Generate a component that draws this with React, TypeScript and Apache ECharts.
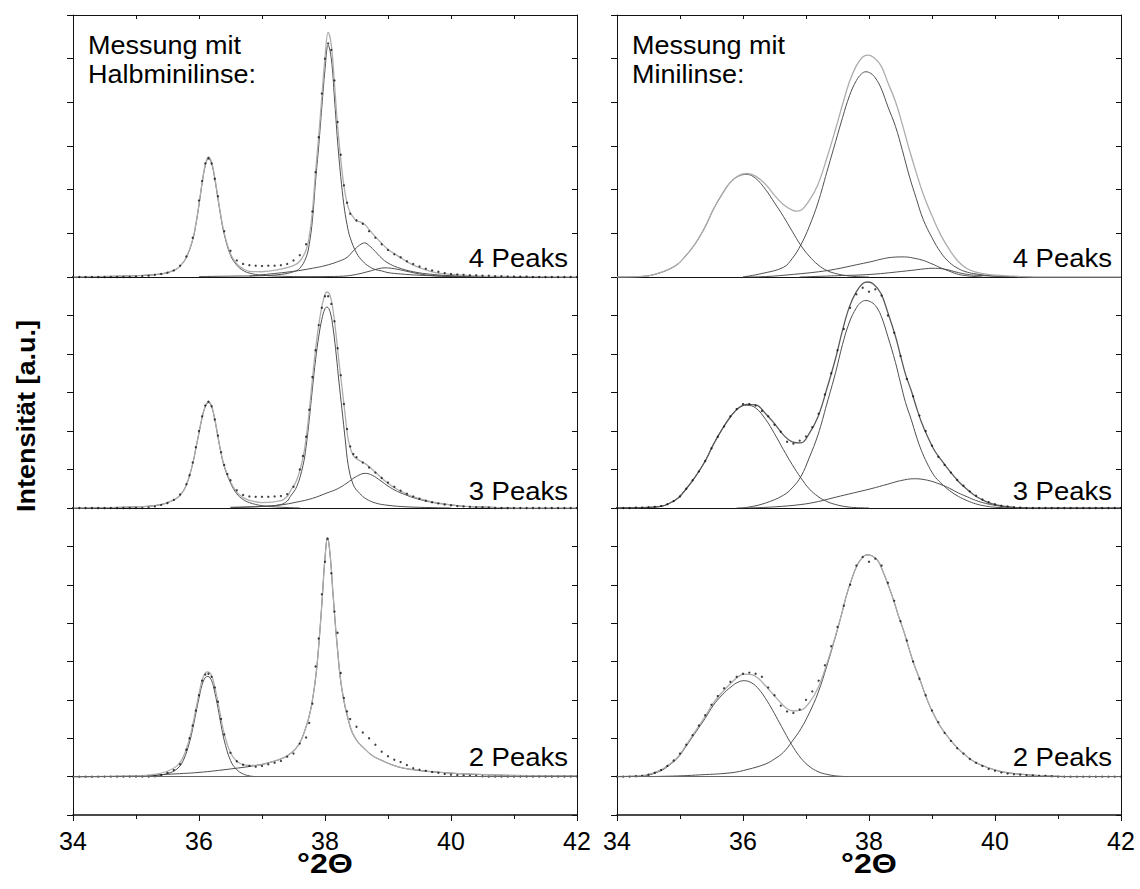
import React, { useEffect, useRef } from 'react';
import * as echarts from 'echarts';

// ---------------- data (x in °2Θ, y in intensity units) ----------------
// LEFT column: "Halbminilinse"
const L4_DATA = [[34.0,0],[34.1,0],[34.2,0],[34.3,0],[34.4,0],[34.5,0],[34.6,0],[34.7,0],[34.8,0],[34.9,0],[35.0,0.01],[35.1,0.02],[35.2,0.03],[35.3,0.05],[35.4,0.07],[35.5,0.1],[35.6,0.15],[35.7,0.26],[35.8,0.47],[35.9,0.9],[36.0,1.75],[36.05,2.2],[36.1,2.6],[36.15,2.72],[36.2,2.6],[36.25,2.25],[36.3,1.85],[36.4,1.05],[36.5,0.6],[36.6,0.38],[36.7,0.3],[36.8,0.27],[36.9,0.26],[37.0,0.25],[37.1,0.26],[37.2,0.26],[37.3,0.27],[37.4,0.3],[37.5,0.38],[37.6,0.5],[37.7,0.75],[37.8,1.5],[37.85,2.4],[37.9,3.2],[37.95,4.2],[38.0,5.0],[38.05,5.35],[38.1,5.2],[38.15,4.5],[38.2,3.55],[38.25,2.8],[38.3,2.1],[38.35,1.7],[38.4,1.45],[38.5,1.3],[38.6,1.22],[38.7,1.05],[38.8,0.9],[38.9,0.75],[39.0,0.62],[39.1,0.52],[39.2,0.45],[39.3,0.36],[39.4,0.3],[39.5,0.24],[39.6,0.19],[39.7,0.15],[39.8,0.12],[39.9,0.09],[40.0,0.07],[40.1,0.06],[40.2,0.05],[40.3,0.04],[40.4,0.04],[40.5,0.03],[40.6,0.03],[40.7,0.02],[40.8,0.02],[40.9,0.01],[41.0,0.01],[41.1,0.01],[41.2,0.01],[41.3,0],[41.4,0],[41.5,0],[41.6,0],[41.7,0],[41.8,0],[41.9,0],[42.0,0]];
const L4_TOTAL = [[34.0,0],[35.0,0.03],[35.4,0.07],[35.6,0.15],[35.7,0.25],[35.8,0.45],[35.9,0.86],[35.95,1.21],[36.0,1.67],[36.05,2.17],[36.1,2.57],[36.15,2.75],[36.2,2.63],[36.25,2.28],[36.3,1.83],[36.35,1.38],[36.4,1.01],[36.5,0.53],[36.6,0.3],[36.7,0.19],[36.8,0.13],[37.0,0.12],[37.3,0.18],[37.5,0.26],[37.6,0.36],[37.7,0.62],[37.75,0.93],[37.8,1.5],[37.85,2.41],[37.9,3.22],[37.95,4.13],[38.0,5.02],[38.05,5.6],[38.1,5.31],[38.15,4.43],[38.2,3.46],[38.25,2.7],[38.3,2.09],[38.35,1.69],[38.4,1.47],[38.45,1.37],[38.5,1.28],[38.55,1.27],[38.63,1.2],[38.7,1.09],[38.8,0.92],[38.9,0.77],[39.0,0.63],[39.15,0.49],[39.4,0.27],[39.7,0.12],[40.0,0.06],[40.5,0.02],[41.0,0.01],[42.0,0]];
const L4_C1 = [[34.0,0],[35.0,0.03],[35.4,0.07],[35.6,0.15],[35.7,0.25],[35.8,0.45],[35.9,0.85],[35.95,1.2],[36.0,1.65],[36.05,2.15],[36.1,2.55],[36.15,2.71],[36.2,2.6],[36.25,2.25],[36.3,1.8],[36.35,1.35],[36.4,0.98],[36.5,0.5],[36.6,0.27],[36.7,0.15],[36.8,0.09],[37.0,0.04],[37.5,0.01],[38.0,0]];
const L4_C2 = [[36.0,0.01],[36.5,0.02],[37.0,0.03],[37.3,0.06],[37.5,0.12],[37.6,0.2],[37.7,0.45],[37.75,0.75],[37.8,1.3],[37.85,2.2],[37.9,3.0],[37.95,3.9],[38.0,4.75],[38.05,5.31],[38.1,5.0],[38.15,4.1],[38.2,3.1],[38.25,2.3],[38.3,1.65],[38.35,1.2],[38.4,0.9],[38.5,0.55],[38.6,0.36],[38.7,0.24],[38.8,0.17],[38.9,0.14],[39.0,0.1],[39.2,0.07],[39.5,0.04],[40.0,0.02],[40.5,0.01],[41.0,0]];
const L4_C3 = [[36.8,0.02],[37.0,0.05],[37.5,0.13],[37.8,0.2],[38.0,0.26],[38.2,0.35],[38.35,0.45],[38.45,0.6],[38.55,0.73],[38.63,0.78],[38.7,0.72],[38.8,0.58],[38.9,0.43],[39.0,0.32],[39.15,0.22],[39.4,0.12],[39.7,0.06],[40.0,0.03],[40.5,0.01],[41.0,0]];
const L4_C4 = [[37.5,0],[38.0,0.01],[38.3,0.02],[38.5,0.06],[38.7,0.13],[38.85,0.19],[38.95,0.21],[39.1,0.19],[39.3,0.13],[39.5,0.07],[39.7,0.03],[40.0,0.01],[40.5,0]];

const L3_DATA = [[34.0,0],[34.1,0],[34.2,0],[34.3,0],[34.4,0],[34.5,0],[34.6,0],[34.7,0],[34.8,0],[34.9,0],[35.0,0],[35.1,0],[35.2,0.01],[35.3,0.04],[35.4,0.08],[35.5,0.13],[35.6,0.21],[35.7,0.35],[35.8,0.62],[35.85,0.85],[35.9,1.18],[35.95,1.58],[36.0,2.0],[36.05,2.38],[36.1,2.66],[36.15,2.76],[36.2,2.64],[36.25,2.3],[36.3,1.88],[36.35,1.45],[36.4,1.12],[36.45,0.88],[36.5,0.72],[36.6,0.46],[36.7,0.34],[36.8,0.3],[36.9,0.29],[37.0,0.29],[37.1,0.29],[37.2,0.3],[37.3,0.31],[37.4,0.36],[37.5,0.55],[37.6,1.0],[37.65,1.35],[37.7,1.85],[37.75,2.55],[37.8,3.4],[37.85,4.1],[37.9,4.75],[37.95,5.2],[38.0,5.5],[38.05,5.5],[38.1,5.3],[38.15,4.85],[38.2,4.15],[38.25,3.45],[38.3,2.7],[38.35,2.05],[38.4,1.6],[38.45,1.4],[38.5,1.32],[38.6,1.18],[38.7,1.05],[38.8,0.92],[38.9,0.78],[39.0,0.66],[39.1,0.55],[39.2,0.45],[39.3,0.37],[39.4,0.3],[39.5,0.24],[39.6,0.19],[39.7,0.15],[39.8,0.12],[39.9,0.09],[40.0,0.07],[40.1,0.05],[40.2,0.04],[40.3,0.03],[40.4,0.02],[40.5,0.02],[40.6,0.01],[40.7,0],[40.8,0],[40.9,0],[41.0,0],[41.1,0],[41.2,0],[41.3,0],[41.4,0],[41.5,0],[41.6,0],[41.7,0],[41.8,0],[41.9,0],[42.0,0]];
const L3_TOTAL = [[34.0,0],[35.0,0.03],[35.4,0.09],[35.6,0.21],[35.7,0.33],[35.8,0.6],[35.9,1.15],[35.95,1.55],[36.0,1.96],[36.05,2.36],[36.1,2.64],[36.15,2.76],[36.2,2.65],[36.25,2.32],[36.3,1.87],[36.35,1.44],[36.4,1.1],[36.5,0.68],[36.6,0.41],[36.7,0.27],[36.8,0.2],[37.0,0.14],[37.3,0.19],[37.4,0.3],[37.45,0.44],[37.55,0.72],[37.65,1.3],[37.7,1.81],[37.75,2.52],[37.8,3.35],[37.85,4.12],[37.9,4.75],[37.95,5.23],[38.0,5.55],[38.03,5.61],[38.08,5.52],[38.13,5.11],[38.18,4.44],[38.22,3.82],[38.27,3.13],[38.32,2.42],[38.37,1.77],[38.45,1.36],[38.55,1.23],[38.65,1.14],[38.8,0.93],[39.0,0.64],[39.15,0.48],[39.3,0.36],[39.42,0.28],[39.69,0.16],[40.0,0.08],[40.23,0.04],[40.6,0.02],[41.0,0],[42.0,0]];
const L3_C1 = [[34.0,0],[35.0,0.03],[35.4,0.09],[35.6,0.21],[35.7,0.33],[35.8,0.6],[35.9,1.15],[35.95,1.55],[36.0,1.95],[36.05,2.35],[36.1,2.63],[36.15,2.74],[36.2,2.63],[36.25,2.3],[36.3,1.85],[36.35,1.42],[36.4,1.08],[36.5,0.65],[36.6,0.37],[36.7,0.22],[36.8,0.14],[37.0,0.06],[37.3,0.02],[37.6,0]];
const L3_C2 = [[36.5,0.02],[37.0,0.04],[37.3,0.09],[37.4,0.18],[37.45,0.3],[37.55,0.55],[37.65,1.1],[37.7,1.6],[37.75,2.3],[37.8,3.1],[37.85,3.85],[37.9,4.45],[37.95,4.9],[38.0,5.18],[38.03,5.22],[38.08,5.1],[38.13,4.65],[38.18,3.95],[38.22,3.3],[38.27,2.55],[38.32,1.8],[38.37,1.1],[38.45,0.6],[38.55,0.38],[38.65,0.24],[38.8,0.13],[39.0,0.07],[39.3,0.03],[39.7,0.01],[40.0,0]];
const L3_C3 = [[36.5,0.01],[37.0,0.04],[37.3,0.08],[37.54,0.15],[37.8,0.25],[38.03,0.39],[38.2,0.5],[38.35,0.65],[38.5,0.82],[38.64,0.9],[38.75,0.85],[38.89,0.7],[39.0,0.57],[39.15,0.43],[39.3,0.33],[39.42,0.26],[39.69,0.15],[40.0,0.08],[40.23,0.04],[40.6,0.02],[41.0,0]];

const L2_DATA = [[34.0,0],[34.1,0],[34.2,0],[34.3,0],[34.4,0],[34.5,0],[34.6,0],[34.7,0],[34.8,0],[34.9,0],[35.0,0],[35.1,0],[35.2,0],[35.3,0.01],[35.4,0.04],[35.5,0.1],[35.6,0.17],[35.7,0.32],[35.8,0.7],[35.85,1.0],[35.9,1.33],[35.95,1.72],[36.0,2.12],[36.05,2.5],[36.1,2.66],[36.15,2.68],[36.2,2.6],[36.25,2.32],[36.3,1.95],[36.35,1.5],[36.4,1.1],[36.5,0.62],[36.6,0.4],[36.7,0.31],[36.8,0.28],[36.9,0.26],[37.0,0.28],[37.1,0.32],[37.2,0.36],[37.3,0.41],[37.4,0.52],[37.5,0.6],[37.6,0.86],[37.7,1.02],[37.75,1.4],[37.8,1.9],[37.85,2.87],[37.9,3.6],[37.95,4.75],[38.0,5.6],[38.04,6.2],[38.1,5.3],[38.15,4.3],[38.2,3.75],[38.25,2.7],[38.3,2.05],[38.35,1.7],[38.4,1.5],[38.5,1.3],[38.6,1.15],[38.7,1.0],[38.8,0.83],[38.9,0.65],[39.0,0.53],[39.1,0.44],[39.2,0.38],[39.3,0.3],[39.4,0.22],[39.5,0.18],[39.6,0.15],[39.7,0.12],[39.8,0.1],[39.9,0.07],[40.0,0.05],[40.1,0.04],[40.2,0.03],[40.3,0.02],[40.4,0.02],[40.5,0.01],[40.6,0],[40.7,0],[40.8,0],[40.9,0],[41.0,0],[41.1,0],[41.2,0],[41.3,0],[41.4,0],[41.5,0],[41.6,0],[41.7,0],[41.8,0],[41.9,0],[42.0,0]];
const L2_TOTAL = [[34.0,0],[35.0,0.02],[35.3,0.06],[35.5,0.14],[35.65,0.28],[35.75,0.51],[35.85,1.0],[35.9,1.35],[35.95,1.76],[36.0,2.16],[36.05,2.52],[36.1,2.7],[36.14,2.73],[36.2,2.63],[36.25,2.34],[36.3,1.95],[36.35,1.51],[36.4,1.12],[36.5,0.62],[36.6,0.4],[36.7,0.31],[36.8,0.29],[36.9,0.29],[37.1,0.36],[37.33,0.48],[37.45,0.6],[37.54,0.74],[37.62,0.95],[37.7,1.3],[37.76,1.65],[37.81,2.09],[37.86,2.7],[37.9,3.4],[37.95,4.5],[38.0,5.7],[38.04,6.22],[38.08,5.8],[38.13,4.7],[38.19,3.48],[38.27,2.26],[38.4,1.3],[38.5,0.95],[38.62,0.74],[38.75,0.55],[38.89,0.43],[39.15,0.26],[39.4,0.18],[39.69,0.13],[40.23,0.07],[41.03,0.03],[42.0,0.02]];
const L2_C1 = [[34.0,0],[35.0,0.01],[35.3,0.03],[35.5,0.08],[35.65,0.2],[35.75,0.42],[35.85,0.9],[35.9,1.25],[35.95,1.65],[36.0,2.05],[36.05,2.4],[36.1,2.58],[36.14,2.61],[36.2,2.5],[36.25,2.2],[36.3,1.8],[36.35,1.35],[36.4,0.95],[36.5,0.42],[36.6,0.18],[36.7,0.07],[36.8,0.02],[36.9,0]];
const L2_C2 = [[34.0,0],[35.0,0.01],[35.5,0.06],[36.0,0.11],[36.5,0.2],[36.9,0.29],[37.1,0.36],[37.33,0.48],[37.45,0.6],[37.54,0.74],[37.62,0.95],[37.7,1.3],[37.76,1.65],[37.81,2.09],[37.86,2.7],[37.9,3.4],[37.95,4.5],[38.0,5.7],[38.04,6.22],[38.08,5.8],[38.13,4.7],[38.19,3.48],[38.27,2.26],[38.4,1.3],[38.5,0.95],[38.62,0.74],[38.75,0.55],[38.89,0.43],[39.15,0.26],[39.4,0.18],[39.69,0.13],[40.23,0.07],[41.03,0.03],[42.0,0.02]];

// RIGHT column: "Minilinse"
const R4_TOTAL = [[34.0,0],[34.36,0.01],[34.6,0.06],[34.92,0.25],[35.1,0.5],[35.25,0.78],[35.4,1.15],[35.53,1.55],[35.67,1.9],[35.8,2.17],[35.93,2.32],[36.06,2.37],[36.2,2.31],[36.36,2.12],[36.5,1.87],[36.64,1.66],[36.78,1.53],[36.85,1.51],[36.92,1.53],[37.05,1.75],[37.19,2.12],[37.33,2.72],[37.47,3.39],[37.58,3.95],[37.69,4.47],[37.8,4.84],[37.9,5.04],[37.98,5.08],[38.07,5.03],[38.19,4.84],[38.3,4.45],[38.42,4.02],[38.53,3.49],[38.64,2.92],[38.75,2.39],[38.86,1.9],[39.0,1.4],[39.14,0.96],[39.28,0.62],[39.42,0.35],[39.56,0.19],[39.7,0.11],[39.85,0.07],[40.0,0.04],[40.3,0.02],[40.6,0],[42.0,0]];
const R4_C1 = [[34.0,0],[34.36,0.01],[34.6,0.06],[34.92,0.25],[35.1,0.5],[35.25,0.78],[35.4,1.15],[35.53,1.55],[35.67,1.9],[35.8,2.17],[35.93,2.31],[36.06,2.35],[36.2,2.26],[36.36,2.0],[36.5,1.7],[36.64,1.39],[36.78,1.05],[36.92,0.72],[37.05,0.48],[37.19,0.28],[37.33,0.15],[37.47,0.08],[37.65,0.03],[37.8,0.01],[38.0,0]];
const R4_C2 = [[36.0,0],[36.3,0.08],[36.64,0.22],[36.78,0.42],[36.92,0.74],[37.05,1.15],[37.19,1.7],[37.33,2.4],[37.47,3.1],[37.58,3.65],[37.69,4.15],[37.8,4.5],[37.88,4.65],[37.95,4.7],[38.03,4.66],[38.1,4.56],[38.19,4.33],[38.3,3.9],[38.42,3.45],[38.53,2.9],[38.64,2.31],[38.75,1.8],[38.86,1.32],[39.0,0.9],[39.14,0.56],[39.28,0.33],[39.42,0.19],[39.56,0.11],[39.7,0.07],[39.85,0.04],[40.0,0.02],[40.3,0.01],[40.6,0]];
const R4_C3 = [[36.0,0],[36.36,0.01],[36.8,0.06],[37.2,0.12],[37.47,0.18],[37.8,0.28],[38.03,0.35],[38.2,0.41],[38.36,0.45],[38.56,0.46],[38.75,0.42],[38.86,0.38],[39.0,0.3],[39.14,0.21],[39.3,0.12],[39.42,0.06],[39.6,0.02],[39.8,0]];
const R4_C4 = [[36.9,0],[37.5,0.03],[38.03,0.06],[38.6,0.14],[38.9,0.19],[39.0,0.2],[39.2,0.18],[39.42,0.1],[39.56,0.06],[39.7,0.04],[40.0,0.02],[40.4,0]];

const R3_DATA = [[34.0,0],[34.1,0],[34.2,0],[34.3,0.01],[34.4,0.01],[34.5,0.02],[34.6,0.03],[34.7,0.05],[34.8,0.1],[34.9,0.18],[35.0,0.3],[35.1,0.5],[35.2,0.72],[35.3,0.95],[35.4,1.22],[35.5,1.55],[35.6,1.85],[35.7,2.12],[35.8,2.38],[35.9,2.57],[36.0,2.7],[36.1,2.7],[36.2,2.66],[36.3,2.52],[36.4,2.38],[36.5,2.16],[36.6,1.98],[36.7,1.72],[36.8,1.67],[36.9,1.75],[37.0,1.86],[37.1,2.1],[37.2,2.45],[37.3,2.95],[37.4,3.5],[37.5,4.1],[37.6,4.65],[37.7,5.2],[37.8,5.55],[37.9,5.72],[38.0,5.62],[38.1,5.68],[38.2,5.52],[38.3,5.0],[38.4,4.55],[38.5,3.95],[38.6,3.35],[38.7,2.9],[38.8,2.4],[38.9,2.0],[39.0,1.62],[39.1,1.33],[39.2,1.12],[39.3,0.92],[39.4,0.73],[39.5,0.58],[39.6,0.43],[39.7,0.32],[39.8,0.22],[39.9,0.15],[40.0,0.1],[40.1,0.06],[40.2,0.04],[40.3,0.02],[40.4,0.01],[40.5,0],[40.6,0],[40.7,0],[40.8,0],[40.9,0],[41.0,0],[41.1,0],[41.2,0],[41.3,0],[41.4,0],[41.5,0],[41.6,0],[41.7,0],[41.8,0],[41.9,0],[42.0,0]];
const R3_TOTAL = [[34.0,0],[34.4,0.01],[34.69,0.04],[34.83,0.12],[34.97,0.26],[35.1,0.5],[35.25,0.83],[35.4,1.22],[35.53,1.65],[35.67,2.05],[35.81,2.39],[35.93,2.6],[36.06,2.69],[36.2,2.68],[36.36,2.45],[36.5,2.19],[36.64,1.9],[36.78,1.72],[36.92,1.69],[37.05,1.93],[37.19,2.37],[37.33,3.09],[37.47,3.89],[37.58,4.62],[37.69,5.23],[37.8,5.62],[37.9,5.83],[37.98,5.87],[38.07,5.82],[38.19,5.57],[38.3,5.07],[38.42,4.46],[38.5,3.96],[38.58,3.47],[38.67,3.05],[38.75,2.63],[38.83,2.24],[38.92,1.89],[39.03,1.52],[39.14,1.26],[39.28,0.96],[39.42,0.69],[39.56,0.48],[39.69,0.31],[39.85,0.17],[40.0,0.09],[40.25,0.02],[40.5,0],[42.0,0]];
const R3_C1 = [[34.0,0],[34.4,0.01],[34.69,0.04],[34.83,0.12],[34.97,0.26],[35.1,0.5],[35.25,0.83],[35.4,1.22],[35.53,1.65],[35.67,2.05],[35.81,2.39],[35.93,2.6],[36.06,2.67],[36.2,2.6],[36.36,2.3],[36.5,1.93],[36.64,1.52],[36.78,1.13],[36.92,0.78],[37.05,0.5],[37.19,0.3],[37.33,0.17],[37.47,0.09],[37.65,0.03],[37.8,0.01],[38.0,0]];
const R3_C2 = [[35.9,0],[36.08,0.02],[36.36,0.13],[36.64,0.33],[36.78,0.52],[36.92,0.82],[37.05,1.3],[37.19,1.9],[37.33,2.7],[37.47,3.52],[37.58,4.25],[37.69,4.83],[37.8,5.2],[37.88,5.35],[37.95,5.39],[38.02,5.36],[38.1,5.26],[38.19,5.0],[38.3,4.45],[38.42,3.78],[38.5,3.25],[38.58,2.74],[38.67,2.3],[38.75,1.87],[38.83,1.5],[38.92,1.17],[39.03,0.85],[39.14,0.65],[39.28,0.45],[39.42,0.3],[39.56,0.19],[39.69,0.11],[39.85,0.05],[40.0,0.02],[40.3,0]];
const R3_C3 = [[36.08,0],[36.5,0.03],[36.92,0.09],[37.2,0.17],[37.47,0.28],[37.75,0.39],[38.03,0.5],[38.3,0.62],[38.5,0.71],[38.72,0.76],[38.93,0.72],[39.14,0.61],[39.28,0.51],[39.42,0.39],[39.56,0.29],[39.69,0.2],[39.85,0.12],[40.0,0.07],[40.25,0.02],[40.5,0]];

const R2_DATA = [[34.0,0],[34.1,0],[34.2,0],[34.3,0.01],[34.4,0.02],[34.5,0.05],[34.6,0.1],[34.7,0.17],[34.8,0.28],[34.9,0.42],[35.0,0.6],[35.1,0.83],[35.2,1.08],[35.3,1.33],[35.4,1.6],[35.5,1.87],[35.6,2.1],[35.7,2.3],[35.8,2.47],[35.9,2.6],[36.0,2.68],[36.1,2.71],[36.2,2.68],[36.3,2.6],[36.4,2.32],[36.5,2.12],[36.6,1.85],[36.7,1.7],[36.8,1.66],[36.9,1.75],[37.0,2.0],[37.1,2.22],[37.2,2.5],[37.3,2.9],[37.4,3.4],[37.5,3.9],[37.6,4.45],[37.7,5.0],[37.8,5.5],[37.9,5.72],[38.0,5.6],[38.1,5.68],[38.2,5.5],[38.3,5.05],[38.4,4.58],[38.5,4.05],[38.6,3.55],[38.7,3.0],[38.8,2.55],[38.9,2.12],[39.0,1.72],[39.1,1.42],[39.2,1.14],[39.3,0.93],[39.4,0.74],[39.5,0.6],[39.6,0.46],[39.7,0.36],[39.8,0.28],[39.9,0.2],[40.0,0.15],[40.1,0.11],[40.2,0.08],[40.3,0.06],[40.4,0.05],[40.5,0.04],[40.6,0.03],[40.7,0.02],[40.8,0.02],[40.9,0.01],[41.0,0],[41.1,0],[41.2,0],[41.3,0],[41.4,0],[41.5,0],[41.6,0],[41.7,0],[41.8,0],[41.9,0],[42.0,0]];
const R2_TOTAL = [[34.0,0],[34.42,0.03],[34.69,0.17],[34.83,0.32],[34.97,0.52],[35.1,0.83],[35.25,1.2],[35.4,1.57],[35.53,1.92],[35.67,2.2],[35.81,2.44],[35.92,2.6],[36.02,2.67],[36.14,2.66],[36.25,2.55],[36.36,2.36],[36.47,2.16],[36.58,1.96],[36.69,1.78],[36.8,1.71],[36.92,1.73],[37.05,1.92],[37.19,2.31],[37.33,2.94],[37.47,3.68],[37.56,4.2],[37.64,4.71],[37.72,5.12],[37.81,5.5],[37.9,5.72],[37.97,5.78],[38.05,5.75],[38.14,5.63],[38.22,5.35],[38.31,4.97],[38.39,4.6],[38.47,4.18],[38.56,3.75],[38.64,3.31],[38.72,2.9],[38.81,2.52],[38.89,2.15],[38.97,1.82],[39.05,1.55],[39.14,1.29],[39.28,0.98],[39.42,0.72],[39.56,0.52],[39.69,0.37],[39.83,0.27],[39.97,0.19],[40.1,0.13],[40.25,0.09],[40.5,0.05],[40.81,0.02],[41.2,0],[42.0,0]];
const R2_C1 = [[34.0,0],[34.42,0.02],[34.69,0.15],[34.83,0.3],[34.97,0.5],[35.1,0.8],[35.25,1.16],[35.4,1.52],[35.53,1.86],[35.67,2.13],[35.81,2.34],[35.92,2.46],[36.02,2.5],[36.14,2.44],[36.25,2.28],[36.36,2.03],[36.47,1.73],[36.58,1.4],[36.69,1.07],[36.8,0.76],[36.92,0.48],[37.05,0.27],[37.19,0.13],[37.33,0.06],[37.47,0.02],[37.65,0]];
const R2_C2 = [[34.5,0],[35.0,0.02],[35.25,0.04],[35.81,0.1],[36.08,0.19],[36.36,0.33],[36.5,0.46],[36.64,0.63],[36.78,0.92],[36.92,1.25],[37.05,1.65],[37.19,2.18],[37.33,2.88],[37.47,3.66],[37.56,4.2],[37.64,4.71],[37.72,5.12],[37.81,5.5],[37.9,5.72],[37.97,5.78],[38.05,5.75],[38.14,5.63],[38.22,5.35],[38.31,4.97],[38.39,4.6],[38.47,4.18],[38.56,3.75],[38.64,3.31],[38.72,2.9],[38.81,2.52],[38.89,2.15],[38.97,1.82],[39.05,1.55],[39.14,1.29],[39.28,0.98],[39.42,0.72],[39.56,0.52],[39.69,0.37],[39.83,0.27],[39.97,0.19],[40.1,0.13],[40.25,0.09],[40.5,0.05],[40.81,0.02],[41.2,0]];

const X_MIN = 34;
const X_MAX = 42;
const PEAK_LABELS = ['4 Peaks', '3 Peaks', '2 Peaks'];
const TITLE_LEFT = ['Messung mit', 'Halbminilinse:'];
const TITLE_RIGHT = ['Messung mit', 'Minilinse:'];
const X_NAME = '°2Θ';
const Y_NAME = 'Intensität [a.u.]';

// ---------------- layout / style ----------------
const FONT = "'Liberation Sans', Arial, Helvetica, sans-serif";
const FRAME = '#111';
const COMP = '#4f4f4f';
const LIGHT = '#adadad';
const PANEL_W = 504;
const COL_LEFT = [73, 617];
const SMOOTH = 0.4;
const ROWS = [
  { top: 15, height: 262, min: 0, max: 6, pos: 'top', labelY: 258 },
  { top: 277, height: 231, min: 0, max: 6, pos: 'mid', labelY: 491.5 },
  { top: 508, height: 307, min: -1, max: 7, pos: 'bottom', labelY: 757.5 },
];

const PANELS = [
  { col: 0, row: 0, comps: [L4_C1, L4_C2, L4_C3, L4_C4], total: L4_TOTAL, data: L4_DATA, totalColor: LIGHT },
  { col: 0, row: 1, comps: [L3_C1, L3_C2, L3_C3], total: L3_TOTAL, data: L3_DATA, totalColor: LIGHT },
  { col: 0, row: 2, comps: [L2_C1, L2_C2], total: L2_TOTAL, data: L2_DATA, totalColor: LIGHT },
  { col: 1, row: 0, comps: [R4_C1, R4_C2, R4_C3, R4_C4], total: R4_TOTAL, data: null, totalColor: LIGHT },
  { col: 1, row: 1, comps: [R3_C1, R3_C2, R3_C3], total: R3_TOTAL, data: R3_DATA, totalColor: '#5a5a5a' },
  { col: 1, row: 2, comps: [R2_C1, R2_C2], total: R2_TOTAL, data: R2_DATA, totalColor: LIGHT },
];

function txt(x: number, y: number, text: string, opts: any = {}) {
  const align = opts.align || 'left';
  return {
    type: 'text', x, y, scaleX: opts.scaleX ?? 1, rotation: opts.rotation ?? 0,
    style: {
      text, fontSize: opts.fontSize ?? 24, fontWeight: opts.bold ? 'bold' : 'normal',
      fontFamily: FONT, fill: '#000',
      align, textAlign: align, verticalAlign: 'middle', textVerticalAlign: 'middle',
    },
  };
}

function buildOption() {
  const grid: any[] = [];
  const xAxis: any[] = [];
  const yAxis: any[] = [];
  const series: any[] = [];
  const graphic: any[] = [];

  PANELS.forEach((p, gi) => {
    const r = ROWS[p.row];
    const left = COL_LEFT[p.col];
    grid.push({ left, top: r.top, width: PANEL_W, height: r.height });
    const isBottom = r.pos === 'bottom';
    const xb = xAxis.length;
    xAxis.push({
      gridIndex: gi, type: 'value', min: X_MIN, max: X_MAX, interval: isBottom ? 2 : 1,
      position: 'bottom',
      axisLine: { show: true, onZero: false, lineStyle: { color: FRAME, width: isBottom ? 1.5 : 1 } },
      axisTick: { show: isBottom, inside: false, length: 6, lineStyle: { color: FRAME, width: 1 } },
      minorTick: { show: isBottom, splitNumber: 2, length: 4, lineStyle: { color: FRAME, width: 1 } },
      axisLabel: { show: isBottom, fontSize: 25, color: '#000', margin: 13, fontFamily: FONT },
      splitLine: { show: false }, minorSplitLine: { show: false },
    });
    if (r.pos === 'top') {
      xAxis.push({
        gridIndex: gi, type: 'value', min: X_MIN, max: X_MAX, interval: 1, position: 'top',
        axisLine: { show: true, onZero: false, lineStyle: { color: FRAME, width: 1 } },
        axisTick: { show: true, inside: true, length: 4, lineStyle: { color: FRAME, width: 1 } },
        axisLabel: { show: false }, splitLine: { show: false },
      });
    }
    const yl = yAxis.length;
    yAxis.push({
      gridIndex: gi, type: 'value', min: r.min, max: r.max, interval: 1, position: 'left',
      axisLine: { show: true, onZero: false, lineStyle: { color: FRAME, width: 1 } },
      axisTick: { show: true, inside: false, length: 6, lineStyle: { color: FRAME, width: 1 } },
      axisLabel: { show: false }, splitLine: { show: false },
    });
    yAxis.push({
      gridIndex: gi, type: 'value', min: r.min, max: r.max, interval: 1, position: 'right',
      axisLine: { show: true, onZero: false, lineStyle: { color: FRAME, width: 1 } },
      axisTick: { show: true, inside: true, length: 5, lineStyle: { color: FRAME, width: 1 } },
      axisLabel: { show: false }, splitLine: { show: false },
    });

    p.comps.forEach((c, ci) => {
      series.push({
        type: 'line', xAxisIndex: xb, yAxisIndex: yl, data: c, showSymbol: false,
        smooth: SMOOTH, silent: true, z: 2,
        lineStyle: { color: COMP, width: 1 },
        markLine: isBottom && ci === 0 ? {
          silent: true, symbol: ['none', 'none'], label: { show: false },
          lineStyle: { color: '#666', width: 1, type: 'solid' }, data: [{ yAxis: 0 }],
        } : undefined,
      });
    });
    series.push({
      type: 'line', xAxisIndex: xb, yAxisIndex: yl, data: p.total, showSymbol: false,
      smooth: SMOOTH, silent: true, z: 3,
      lineStyle: { color: p.totalColor, width: 1.3 },
    });
    if (p.data) {
      series.push({
        type: 'scatter', xAxisIndex: xb, yAxisIndex: yl, data: p.data, symbol: 'circle',
        symbolSize: 2.3, silent: true, z: 4, itemStyle: { color: '#111' },
      });
    }

    graphic.push(txt(left + PANEL_W - 9, r.labelY, PEAK_LABELS[p.row], { align: 'right', fontSize: 25, scaleX: 1.1 }));
  });

  [TITLE_LEFT, TITLE_RIGHT].forEach((lines, col) => {
    lines.forEach((t, li) => {
      graphic.push(txt(COL_LEFT[col] + 15, 45.5 + li * 29, t, { fontSize: 25, scaleX: 1.08 }));
    });
    graphic.push(txt(COL_LEFT[col] + PANEL_W / 2, 863, X_NAME, { align: 'center', fontSize: 28, bold: true, scaleX: 1.15 }));
  });

  graphic.push(txt(26, 416, Y_NAME, { align: 'center', fontSize: 25, bold: true, scaleX: 1.08, rotation: Math.PI / 2 }));

  return { animation: false, backgroundColor: '#fff', grid, xAxis, yAxis, series, graphic };
}

export default function App() {
  const ref = useRef<HTMLDivElement>(null);
  useEffect(() => {
    if (!ref.current) return;
    const chart = echarts.init(ref.current, null, { renderer: 'svg' });
    chart.setOption(buildOption() as any);
    return () => chart.dispose();
  }, []);
  return (
    <div
      ref={ref}
      style={{ position: 'absolute', left: 0, top: 0, width: 1140, height: 889, background: '#fff' }}
    />
  );
}
